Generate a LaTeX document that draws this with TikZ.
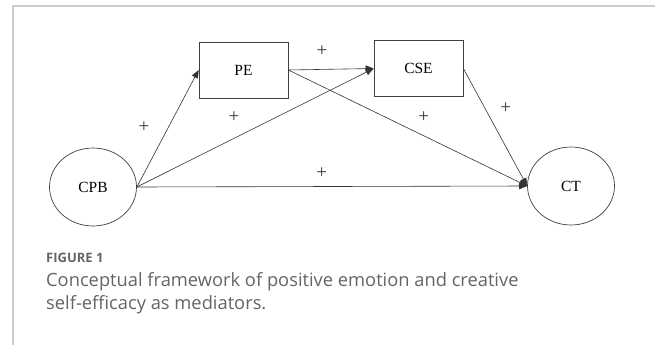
\documentclass[tikz,border=0pt]{standalone}
\usepackage{fontspec}
\setmainfont{Liberation Serif}
\newfontfamily\capfont{Open Sans}
\usepackage{tikz}
\usetikzlibrary{arrows.meta,shapes.geometric,positioning}
\definecolor{frameGray}{RGB}{205,205,205}
\definecolor{capGray}{RGB}{100,100,100}

\begin{document}
\begin{tikzpicture}[x=1pt,y=-1pt,
  var/.style={rectangle,draw=black!75,line width=0.7pt,minimum width=89pt,
              minimum height=56pt,font=\fontsize{15.5}{18}\selectfont},
  lat/.style={ellipse,draw=black!75,line width=0.7pt,minimum width=87pt,
              minimum height=78pt,inner sep=0pt,font=\fontsize{15.5}{18}\selectfont},
  fl/.style={-{Triangle[length=8pt,width=6.5pt]},line width=0.6pt,black!80},
  sgn/.style={font=\fontsize{19}{20}\selectfont,inner sep=0pt}
]
  \useasboundingbox (0,0) rectangle (655,345);
  % frame of the figure panel
  \draw[frameGray,line width=1.3pt] (13,345)--(13,6)--(655,6);

  \node[lat](cpb) at (93,187)    {CPB};
  \node[var](pe)  at (243.5,70)  {PE};
  \node[var](cse) at (418.5,68.5){CSE};
  \node[lat](ct)  at (571,186)   {CT};

  \draw[fl](cpb.east)--node[sgn,pos=0.513,xshift=-24.5pt]{+}(pe.west);
  \draw[fl](cpb.east)--node[sgn,pos=0.41,yshift=21pt]{+}(cse.west);
  \draw[fl](pe.east)--node[sgn,pos=0.395,yshift=18pt]{+}(cse.west);
  \draw[fl](pe.east)--node[sgn,pos=0.567,yshift=19pt]{+}(ct.west);
  \draw[fl](cse.east)--node[sgn,pos=0.336,xshift=21pt]{+}(ct.west);
  \draw[fl](cpb.east)--node[sgn,pos=0.474,yshift=13.5pt]{+}(ct.west);

  % caption
  \node[anchor=base west,inner sep=0pt,text=capGray,font=\capfont\bfseries\fontsize{13}{15}\selectfont]
      (fig) at (46,262) {FIGURE 1};
  \node[anchor=north west,inner sep=0pt,align=left,text=capGray,
        font=\capfont\fontsize{18.3}{23.5}\selectfont]
      (cap) at (46,272) {Conceptual framework of positive emotion and creative\\
      self-efficacy as mediators.};
\end{tikzpicture}
\end{document}
